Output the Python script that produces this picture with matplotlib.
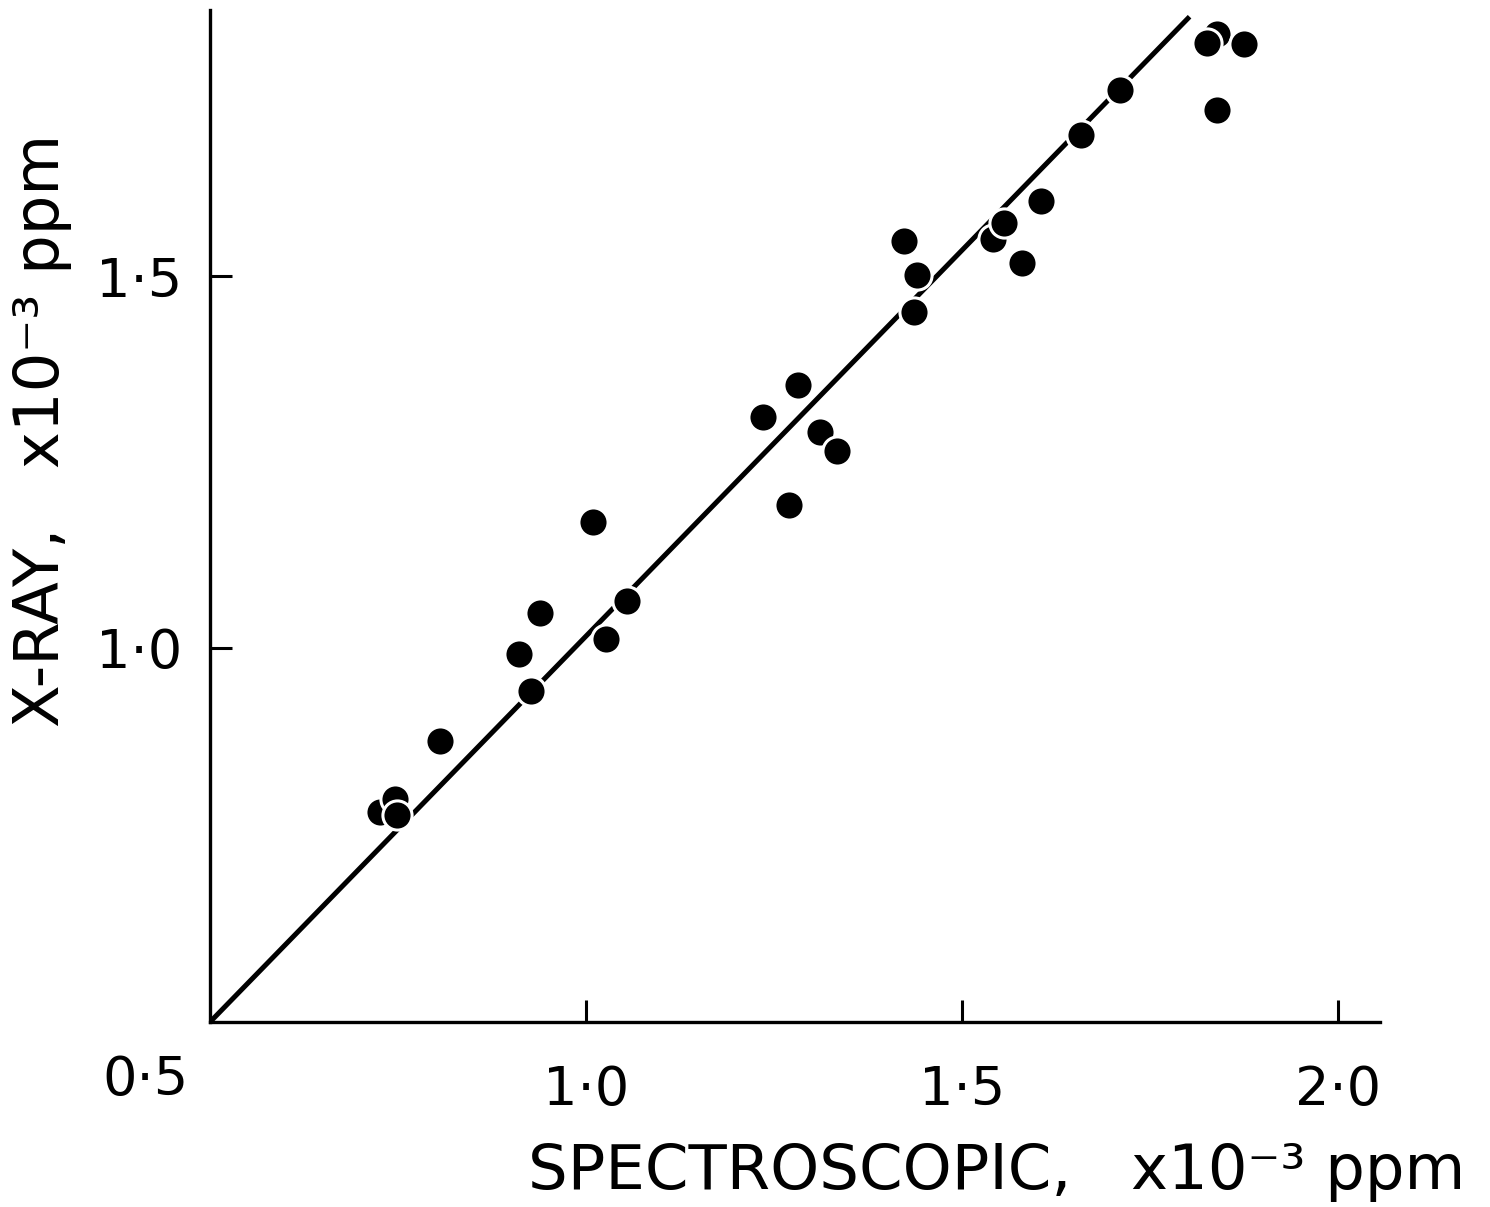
import matplotlib
matplotlib.use("Agg")
import matplotlib.pyplot as plt

# spectroscopic (x) vs x-ray (y), both x10^-3 ppm
spec = [0.726, 0.746, 0.749, 0.806, 0.911, 0.927, 0.939, 1.009, 1.027, 1.055,
        1.235, 1.270, 1.282, 1.311, 1.334, 1.423, 1.440, 1.436, 1.541, 1.556,
        1.580, 1.606, 1.658, 1.710, 1.840, 1.826, 1.875, 1.840]
xray = [0.778, 0.796, 0.774, 0.874, 0.991, 0.941, 1.046, 1.169, 1.012, 1.063,
        1.310, 1.192, 1.353, 1.290, 1.265, 1.547, 1.501, 1.452, 1.550, 1.571,
        1.517, 1.601, 1.690, 1.750, 1.826, 1.813, 1.812, 1.724]

fit_x = [0.5, 1.803]
fit_y = [0.496, 1.849]

x_ticks = [1.0, 1.5, 2.0]
x_labels = ["1·0", "1·5", "2·0"]
y_ticks = [1.0, 1.5]
y_labels = ["1·0", "1·5"]

plt.rcParams['font.family'] = ['DejaVu Sans']
fig = plt.figure(figsize=(14.9, 12.07), dpi=100)
ax = fig.add_axes([0.141, 0.1533, 0.785, 0.8384])

ax.plot(fit_x, fit_y, color="black", lw=3.6, solid_capstyle="butt", zorder=1)
ax.plot(spec, xray, "o", color="black", markersize=21, markeredgecolor="white",
        markeredgewidth=2.2, linestyle="none", zorder=2)

ax.set_xlim(0.5, 2.056)
ax.set_ylim(0.496, 1.858)

for s in ["top", "right"]:
    ax.spines[s].set_visible(False)
for s in ["left", "bottom"]:
    ax.spines[s].set_linewidth(2.4)

ax.set_xticks(x_ticks)
ax.set_xticklabels(x_labels)
ax.set_yticks(y_ticks)
ax.set_yticklabels(y_labels)
ax.tick_params(direction="in", length=16, width=2.2, labelsize=39, pad=20)
ax.tick_params(axis="x", pad=30)

fig.text(145 / 1490, 1 - 1080 / 1207, "0·5", fontsize=39, ha="center", va="center")
fig.text(997 / 1490, 1 - 1172 / 1207, "SPECTROSCOPIC,   x10⁻³ ppm", fontsize=45,
         ha="center", va="center")
fig.text(42 / 1490, 1 - 430 / 1207, "X-RAY,   x10⁻³ ppm", fontsize=45,
         ha="center", va="center", rotation=90)

fig.savefig("out.png", dpi=100)
